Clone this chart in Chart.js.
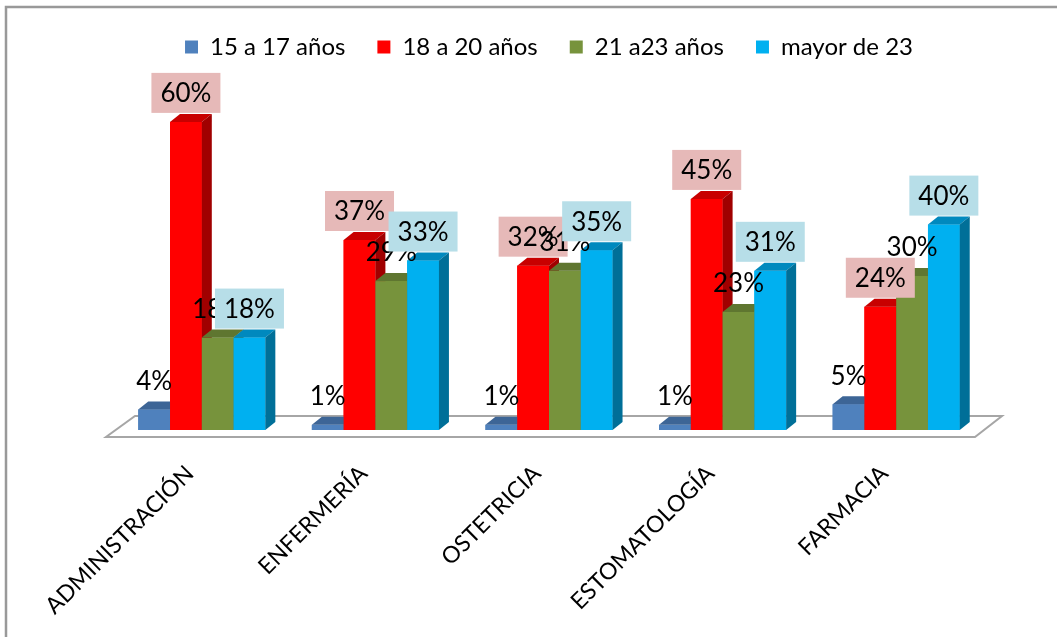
<!DOCTYPE html>
<html>
<head>
<meta charset="utf-8">
<script src="https://cdn.jsdelivr.net/npm/chart.js@4.4.1/dist/chart.umd.min.js"></script>
<style>
  html, body { margin: 0; padding: 0; background: #fff; }
  #wrap { width: 1057px; height: 637px; }
</style>
</head>
<body>
<div id="wrap"><canvas id="chart"></canvas></div>
<script>
// categorias
const carreras = ['ADMINISTRACIÓN', 'ENFERMERÍA', 'OSTETRICIA', 'ESTOMATOLOGÍA', 'FARMACIA'];
// series (porcentajes)
const edad15a17 = [4, 1, 1, 1, 5];
const edad18a20 = [60, 37, 32, 45, 24];
const edad21a23 = [18, 29, 31, 23, 30];
const mayor23 = [18, 33, 35, 31, 40];
const nombres = ['15 a 17 años', '18 a 20 años', '21 a23 años', 'mayor de 23'];

// colores: frente, tapa, lado, fondo de etiqueta
const frente = ['#4F81BD', '#FF0000', '#77933C', '#00B0F0'];
const tapa = ['#3D6596', '#C80000', '#5F7630', '#0089BE'];
const lado = ['#375A86', '#A00000', '#546A2B', '#006F98'];
const fondoEtiqueta = [null, '#E6B9B8', null, '#B7DEE8'];

const PX = 10, PY = 8;
const fuente = "Lato, 'Open Sans', sans-serif";

// marco + piso
const marco = {
    id: 'marco',
    beforeDraw(chart) {
        const ctx = chart.ctx;
        ctx.save();
        ctx.fillStyle = '#fff';
        ctx.fillRect(0, 0, chart.width, chart.height);
        ctx.strokeStyle = '#999';
        ctx.lineWidth = 2.5;
        ctx.beginPath();
        ctx.moveTo(6, chart.height + 5);
        ctx.lineTo(6, 7);
        ctx.lineTo(chart.width + 5, 7);
        ctx.stroke();
        ctx.restore();
    },
    beforeDatasetsDraw(chart) {
        const { left, right, bottom } = chart.chartArea;
        const ctx = chart.ctx;
        ctx.save();
        ctx.beginPath();
        ctx.moveTo(left - 9, bottom + 7);
        ctx.lineTo(right - 8, bottom + 7);
        ctx.lineTo(right + 19, bottom - 14);
        ctx.lineTo(left + 20, bottom - 14);
        ctx.closePath();
        ctx.fillStyle = '#fff';
        ctx.fill();
        ctx.strokeStyle = '#A6A6A6';
        ctx.lineWidth = 2;
        ctx.stroke();
        ctx.restore();
    }
};

// barras 3d y etiquetas
const barras3d = {
    id: 'barras3d',
    afterDatasetsDraw(chart) {
        const ctx = chart.ctx;
        const n = chart.data.datasets.length;
        ctx.save();
        for (let i = 0; i < carreras.length; i++) {
            for (let d = 0; d < n; d++) {
                const el = chart.getDatasetMeta(d).data[i];
                const { x, y, base, width } = el.getProps(['x', 'y', 'base', 'width'], true);
                const l = x - width / 2, r = x + width / 2;
                ctx.fillStyle = frente[d];
                ctx.fillRect(l, y, width, base - y);
                ctx.fillStyle = tapa[d];
                ctx.beginPath();
                ctx.moveTo(l, y); ctx.lineTo(l + PX, y - PY); ctx.lineTo(r + PX, y - PY); ctx.lineTo(r, y);
                ctx.closePath(); ctx.fill();
                ctx.fillStyle = lado[d];
                ctx.beginPath();
                ctx.moveTo(r, y); ctx.lineTo(r + PX, y - PY); ctx.lineTo(r + PX, base - PY); ctx.lineTo(r, base);
                ctx.closePath(); ctx.fill();
            }
        }
        ctx.font = '26px ' + fuente;
        ctx.textAlign = 'center';
        ctx.textBaseline = 'middle';
        for (let i = 0; i < carreras.length; i++) {
            for (let d = 0; d < n; d++) {
                const el = chart.getDatasetMeta(d).data[i];
                const { x, y } = el.getProps(['x', 'y'], true);
                const txt = chart.data.datasets[d].data[i] + '%';
                const cy = y - 29;
                if (fondoEtiqueta[d]) {
                    const w = ctx.measureText(txt).width + 18;
                    ctx.fillStyle = fondoEtiqueta[d];
                    ctx.fillRect(x - w / 2, cy - 20, w, 40);
                }
                ctx.fillStyle = '#000';
                ctx.fillText(txt, x, cy + 1);
            }
        }
        ctx.restore();
    }
};

const series = [edad15a17, edad18a20, edad21a23, mayor23];
const chrt = document.getElementById('chart');
const grafico = new Chart(chrt, {
    type: 'bar',
    data: {
        labels: carreras,
        datasets: series.map((s, k) => ({
            label: nombres[k],
            data: s,
            backgroundColor: frente[k],
            borderWidth: 0
        }))
    },
    options: {
        responsive: true,
        maintainAspectRatio: false,
        animation: false,
        layout: { padding: { top: 3, left: 115, right: 74, bottom: 0 } },
        datasets: { bar: { categoryPercentage: 0.732, barPercentage: 1 } },
        plugins: {
            legend: {
                position: 'top',
                labels: {
                    boxWidth: 13,
                    boxHeight: 13,
                    padding: 32,
                    color: '#000',
                    font: { family: fuente, size: 24 }
                }
            },
            tooltip: { enabled: false }
        },
        scales: {
            y: { display: false, min: 0, max: 70.3 },
            x: {
                grid: { display: false, drawTicks: false },
                border: { display: false },
                ticks: {
                    color: '#000',
                    font: { family: fuente, size: 23 },
                    minRotation: 45,
                    maxRotation: 45,
                    padding: 30,
                    labelOffset: -12
                },
                afterFit(scale) { scale.height = 207; }
            }
        }
    },
    plugins: [marco, barras3d]
});
</script>
</body>
</html>
